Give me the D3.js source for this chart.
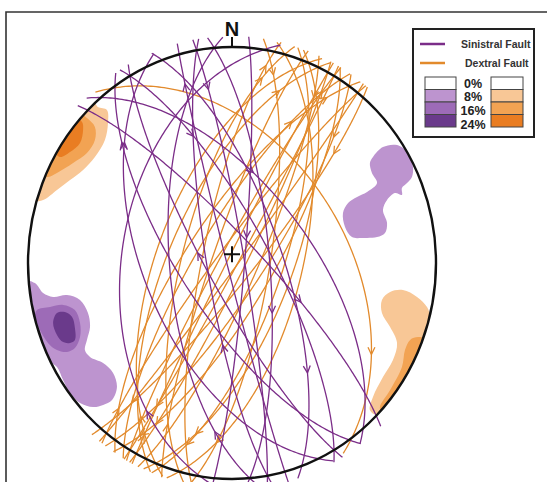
<!DOCTYPE html>
<html>
<head>
<meta charset="utf-8">
<script src="https://cdn.jsdelivr.net/npm/d3@7"></script>
<style>
  body { margin: 0; background: #fff; }
  svg { display: block; font-family: "Liberation Sans", Arial, sans-serif; }
</style>
</head>
<body>
<div id="chart"></div>
<script>
// Fault planes: dip direction (deg), dip (deg), slip-arrow position along the trace (deg from strike)
var sinDipDir = [279, 245, 80, 260, 45, 60, 240, 70, 255, 50, 265, 85, 235, 95];
var sinDip    = [45, 55, 85, 80, 80, 75, 80, 70, 88, 60, 65, 75, 70, 85];
var sinArrow  = [30, 150, 20, 60, 120, 40, 100, 140, 165, 70, 25, 110, 155, 80];

var dexDipDir = [54, 105, 100, 285, 290, 295, 300, 115, 120, 110, 125, 302, 298, 118, 130, 305, 112, 292, 122, 308, 128, 282];
var dexDip    = [45, 62, 75, 70, 82, 65, 85, 80, 88, 70, 78, 76, 88, 85, 82, 72, 66, 60, 74, 84, 88, 78];
var dexArrow  = [150, 160, 12, 165, 20, 160, 170, 15, 155, 165, 25, 150, 10, 162, 30, 168, 158, 20, 170, 14, 160, 172];

// Pole-density contours, net coordinates (east, north), one list per level
var sinContour8 = [
  [[0.691,0.491],[0.740,0.537],[0.809,0.546],[0.863,0.509],[0.887,0.444],[0.882,0.398],[0.858,0.370],[0.833,0.347],[0.833,0.315],[0.799,0.324],[0.760,0.292],[0.740,0.245],[0.760,0.185],[0.750,0.139],[0.711,0.120],[0.642,0.116],[0.588,0.120],[0.554,0.167],[0.544,0.231],[0.569,0.278],[0.613,0.306],[0.662,0.329],[0.711,0.370],[0.686,0.417],[0.676,0.463]],
  [[-1.04,-0.08],[-0.966,-0.093],[-0.926,-0.139],[-0.877,-0.157],[-0.809,-0.148],[-0.745,-0.171],[-0.706,-0.231],[-0.696,-0.296],[-0.711,-0.356],[-0.721,-0.403],[-0.696,-0.435],[-0.632,-0.463],[-0.583,-0.509],[-0.564,-0.574],[-0.588,-0.634],[-0.632,-0.657],[-0.681,-0.667],[-0.745,-0.648],[-0.794,-0.602],[-0.828,-0.542],[-0.858,-0.481],[-0.907,-0.449],[-0.956,-0.389],[-1.0,-0.264]]
];
var sinContour16 = [
  [[-0.956,-0.218],[-0.892,-0.204],[-0.828,-0.194],[-0.770,-0.218],[-0.745,-0.278],[-0.745,-0.343],[-0.770,-0.394],[-0.809,-0.412],[-0.858,-0.403],[-0.902,-0.370],[-0.941,-0.310],[-0.966,-0.250]]
];
var sinContour24 = [
  [[-0.858,-0.231],[-0.819,-0.227],[-0.784,-0.250],[-0.770,-0.301],[-0.770,-0.356],[-0.794,-0.370],[-0.828,-0.366],[-0.858,-0.333],[-0.877,-0.278]]
];
var dexContour8 = [
  [[-0.657,0.722],[-0.613,0.708],[-0.608,0.648],[-0.623,0.569],[-0.672,0.491],[-0.730,0.431],[-0.794,0.384],[-0.858,0.338],[-0.926,0.292],[-0.99,0.29],[-0.94,0.43],[-0.84,0.62],[-0.75,0.73],[-0.68,0.75]],
  [[0.735,-0.171],[0.775,-0.134],[0.838,-0.125],[0.907,-0.157],[0.956,-0.204],[0.971,-0.250],[0.961,-0.343],[0.922,-0.463],[0.858,-0.574],[0.775,-0.667],[0.711,-0.704],[0.676,-0.681],[0.691,-0.620],[0.740,-0.528],[0.789,-0.449],[0.809,-0.370],[0.775,-0.296],[0.735,-0.231]]
];
var dexContour16 = [
  [[-0.711,0.671],[-0.672,0.630],[-0.672,0.569],[-0.711,0.509],[-0.779,0.463],[-0.858,0.417],[-0.902,0.398],[-0.97,0.41],[-0.87,0.62],[-0.77,0.71]],
  [[0.873,-0.356],[0.912,-0.343],[0.956,-0.356],[0.936,-0.449],[0.873,-0.556],[0.789,-0.648],[0.735,-0.694],[0.725,-0.667],[0.775,-0.588],[0.833,-0.481],[0.848,-0.403]]
];
var dexContour24 = [
  [[-0.735,0.653],[-0.730,0.616],[-0.745,0.556],[-0.794,0.514],[-0.843,0.491],[-0.87,0.52],[-0.82,0.625],[-0.77,0.67]],
  [[0.922,-0.435],[0.946,-0.417],[0.912,-0.528],[0.848,-0.602],[0.789,-0.657],[0.775,-0.648],[0.824,-0.588],[0.887,-0.495]]
];

var levelLabels = ["0%", "8%", "16%", "24%"];
var seriesNames = ["Sinistral Fault", "Dextral Fault"];

var sinColor = "#7b2d88", dexColor = "#e28a2c";
var sinFills = ["#ffffff", "#bd94cf", "#9d6bb7", "#6a3a8b"];
var dexFills = ["#ffffff", "#f8c796", "#f2a353", "#e97d22"];

var width = 547, height = 482;
var svg = d3.select("#chart").append("svg")
  .attr("width", width).attr("height", height);

// frame
svg.append("path").attr("d", "M6,482V12H547")
  .attr("fill", "none").attr("stroke", "#333").attr("stroke-width", 1.6);

// net scales (lower hemisphere, equal area)
var x = d3.scaleLinear().domain([-1, 1]).range([28, 436]);
var y = d3.scaleLinear().domain([-1, 1]).range([479, 47]);

svg.append("clipPath").attr("id", "net")
  .append("ellipse")
  .attr("cx", x(0)).attr("cy", y(0))
  .attr("rx", x(1) - x(0)).attr("ry", y(-1) - y(0));

// contours
var blob = d3.line().x(function (d) { return x(d[0]); }).y(function (d) { return y(d[1]); })
  .curve(d3.curveCatmullRomClosed.alpha(0.5));
var cg = svg.append("g").attr("clip-path", "url(#net)");
[[dexContour8, dexFills[1]], [dexContour16, dexFills[2]], [dexContour24, dexFills[3]],
 [sinContour8, sinFills[1]], [sinContour16, sinFills[2]], [sinContour24, sinFills[3]]]
  .forEach(function (lv) {
    cg.selectAll(null).data(lv[0]).enter().append("path")
      .attr("d", blob).attr("fill", lv[1]);
  });

// great circle of a plane, extended a little past the primitive
var rad = Math.PI / 180, ext = 6;
function netPoint(dd, dip, t) {
  var s = (dd - 90) * rad, a = dd * rad, d = dip * rad, tt = t * rad;
  var e = Math.cos(tt) * Math.sin(s) + Math.sin(tt) * Math.sin(a) * Math.cos(d);
  var n = Math.cos(tt) * Math.cos(s) + Math.sin(tt) * Math.cos(a) * Math.cos(d);
  var dn = Math.sin(tt) * Math.sin(d);
  var plunge = Math.atan2(dn, Math.sqrt(e * e + n * n));
  var trend = Math.atan2(e, n);
  var r = Math.SQRT2 * Math.sin((Math.PI / 2 - plunge) / 2);
  return [r * Math.sin(trend), r * Math.cos(trend)];
}
function trace(dd, dip) {
  return d3.range(-ext, 180 + ext + 0.1, 1).map(function (t) { return netPoint(dd, dip, t); });
}
var line = d3.line().x(function (d) { return x(d[0]); }).y(function (d) { return y(d[1]); });

function arrow(dd, dip, t) {
  var p = netPoint(dd, dip, t), q = netPoint(dd, dip, t - 3);
  var px = x(p[0]), py = y(p[1]), qx = x(q[0]), qy = y(q[1]);
  var ang = Math.atan2(py - qy, px - qx), L = 8;
  var b1 = ang + Math.PI - 0.45, b2 = ang + Math.PI + 0.45;
  return "M" + (px + L * Math.cos(b1)) + "," + (py + L * Math.sin(b1)) +
    "L" + px + "," + py + "L" + (px + L * Math.cos(b2)) + "," + (py + L * Math.sin(b2));
}

function drawSet(dirs, dips, arrows, color) {
  var g = svg.append("g").attr("fill", "none").attr("stroke", color)
    .attr("stroke-width", 1.3).attr("stroke-linejoin", "round");
  dirs.forEach(function (dd, i) {
    g.append("path").attr("d", line(trace(dd, dips[i])));
    g.append("path").attr("d", arrow(dd, dips[i], arrows[i]));
  });
}
drawSet(dexDipDir, dexDip, dexArrow, dexColor);
drawSet(sinDipDir, sinDip, sinArrow, sinColor);

// primitive circle
svg.append("ellipse")
  .attr("cx", x(0)).attr("cy", y(0))
  .attr("rx", x(1) - x(0)).attr("ry", y(-1) - y(0))
  .attr("fill", "none").attr("stroke", "#111").attr("stroke-width", 2.4);

// north tick and label
svg.append("line").attr("x1", x(0)).attr("x2", x(0)).attr("y1", y(1) - 10).attr("y2", y(1))
  .attr("stroke", "#111").attr("stroke-width", 2);
svg.append("text").attr("x", x(0)).attr("y", y(1) - 11).attr("text-anchor", "middle")
  .attr("font-size", 20).attr("font-weight", "bold").attr("fill", "#111").text("N");

// centre cross
var cxp = x(0), cyp = y(0.04);
svg.append("path").attr("d", "M" + (cxp - 8) + "," + cyp + "H" + (cxp + 8) + "M" + cxp + "," + (cyp - 8) + "V" + (cyp + 8))
  .attr("stroke", "#111").attr("stroke-width", 2);

// legend
var lg = svg.append("g");
lg.append("rect").attr("x", 413).attr("y", 29).attr("width", 121).attr("height", 108)
  .attr("fill", "#fff").attr("stroke", "#222").attr("stroke-width", 2);
[[sinColor, 44, 461], [dexColor, 63, 465]].forEach(function (d, i) {
  lg.append("line").attr("x1", 420).attr("x2", 445).attr("y1", d[1]).attr("y2", d[1])
    .attr("stroke", d[0]).attr("stroke-width", 2.5);
  lg.append("text").attr("x", d[2]).attr("y", d[1] + 4).attr("font-size", 10.5)
    .attr("font-weight", "bold").attr("fill", "#333").text(seriesNames[i]);
});
var rowY = d3.scaleBand().domain(levelLabels).range([77, 127]);
levelLabels.forEach(function (lab, i) {
  lg.append("rect").attr("x", 425).attr("y", rowY(lab)).attr("width", 31).attr("height", rowY.bandwidth())
    .attr("fill", sinFills[i]).attr("stroke", "#444").attr("stroke-width", 1);
  lg.append("rect").attr("x", 491).attr("y", rowY(lab)).attr("width", 32).attr("height", rowY.bandwidth())
    .attr("fill", dexFills[i]).attr("stroke", "#444").attr("stroke-width", 1);
  lg.append("text").attr("x", 473).attr("y", rowY(lab) + rowY.bandwidth() - 2 + i * 1.2)
    .attr("text-anchor", "middle").attr("font-size", 12.5).attr("font-weight", "bold")
    .attr("fill", "#222").text(lab);
});
</script>
</body>
</html>
